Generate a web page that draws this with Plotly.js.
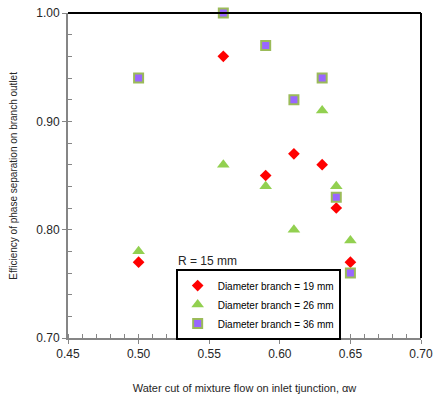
<!DOCTYPE html>
<html>
<head>
<meta charset="utf-8">
<script src="https://cdn.plot.ly/plotly-3.0.1.min.js"></script>
<style>html,body{margin:0;padding:0;background:#fff;}#chart{width:438px;height:400px;}</style>
</head>
<body>
<div id="chart"></div>
<script>
const waterCut = [0.50, 0.56, 0.59, 0.61, 0.63, 0.64, 0.65];
const eff19 = [0.77, 0.96, 0.85, 0.87, 0.86, 0.82, 0.77];
const eff26 = [0.78, 0.86, 0.84, 0.80, 0.91, 0.84, 0.79];
const eff36 = [0.94, 1.00, 0.97, 0.92, 0.94, 0.83, 0.76];
const seriesNames = ["Diameter branch = 19 mm", "Diameter branch = 26 mm", "Diameter branch = 36 mm"];
const xTicks = [0.45, 0.50, 0.55, 0.60, 0.65, 0.70];
const yTicks = [0.70, 0.80, 0.90, 1.00];

const font = "Liberation Sans, Arial, sans-serif";
const traces = [
  {x: waterCut, y: eff19, name: seriesNames[0], mode: "markers", type: "scatter",
   marker: {symbol: "diamond", size: 9, color: "#ff0000"}, cliponaxis: false},
  {x: waterCut, y: eff26, name: seriesNames[1], mode: "markers", type: "scatter",
   marker: {symbol: "triangle-up", size: 11, color: "#92d050"}, cliponaxis: false},
  {x: waterCut, y: eff36, name: seriesNames[2], mode: "markers", type: "scatter",
   marker: {symbol: "square", size: 9, color: "#9966ff", line: {color: "#9bbb59", width: 2}}, cliponaxis: false}
];

const layout = {
  width: 438, height: 400,
  margin: {l: 68, r: 17, t: 13, b: 62},
  paper_bgcolor: "#fff", plot_bgcolor: "#fff",
  font: {family: font, size: 12, color: "#262626"},
  showlegend: true,
  legend: {x: 0.305, y: 0.212, xanchor: "left", yanchor: "top",
    bordercolor: "#000", borderwidth: 2, bgcolor: "#fff",
    font: {family: font, size: 10, color: "#000"},
    tracegroupgap: 0, itemsizing: "trace", itemwidth: 30},
  xaxis: {range: [0.45, 0.70], tickvals: xTicks, ticktext: xTicks.map(v => v.toFixed(2)),
    showgrid: false, zeroline: false, showline: true, linecolor: "#868686", linewidth: 2,
    ticks: "outside", ticklen: 4, tickcolor: "#868686", tickwidth: 1,
    minor: {dtick: 0.01, ticks: "inside", ticklen: 4, tickcolor: "#868686", showgrid: false},
    tickfont: {family: font, size: 12, color: "#262626"},
    title: {text: "Water cut of mixture flow on inlet tjunction, αw", font: {family: font, size: 11, color: "#262626"}, standoff: 24}},
  yaxis: {range: [0.70, 1.00], tickvals: yTicks, ticktext: yTicks.map(v => v.toFixed(2)),
    showgrid: false, zeroline: false, showline: true, linecolor: "#868686", linewidth: 2,
    ticks: "outside", ticklen: 4, tickcolor: "#868686", tickwidth: 1,
    minor: {dtick: 0.02, ticks: "inside", ticklen: 4, tickcolor: "#868686", showgrid: false},
    tickfont: {family: font, size: 12, color: "#262626"}},
  shapes: [
    {type: "line", xref: "paper", yref: "paper", x0: 0, x1: 1, y0: 1, y1: 1, line: {color: "#000", width: 2}},
    {type: "line", xref: "paper", yref: "paper", x0: 1, x1: 1, y0: 0, y1: 1, line: {color: "#000", width: 2}}
  ],
  annotations: [
    {text: "R = 15 mm", xref: "paper", yref: "paper", x: 0.305, y: 0.236, xanchor: "left", yanchor: "middle",
     showarrow: false, font: {family: font, size: 12, color: "#262626"}},
    {text: "Efficiency of phase separation on branch outlet", xref: "paper", yref: "paper",
     x: -0.155, y: 0.5, xanchor: "center", yanchor: "middle", textangle: -90,
     showarrow: false, font: {family: font, size: 10, color: "#262626"}}
  ]
};
Plotly.newPlot("chart", traces, layout, {displayModeBar: false, staticPlot: true});
</script>
</body>
</html>
